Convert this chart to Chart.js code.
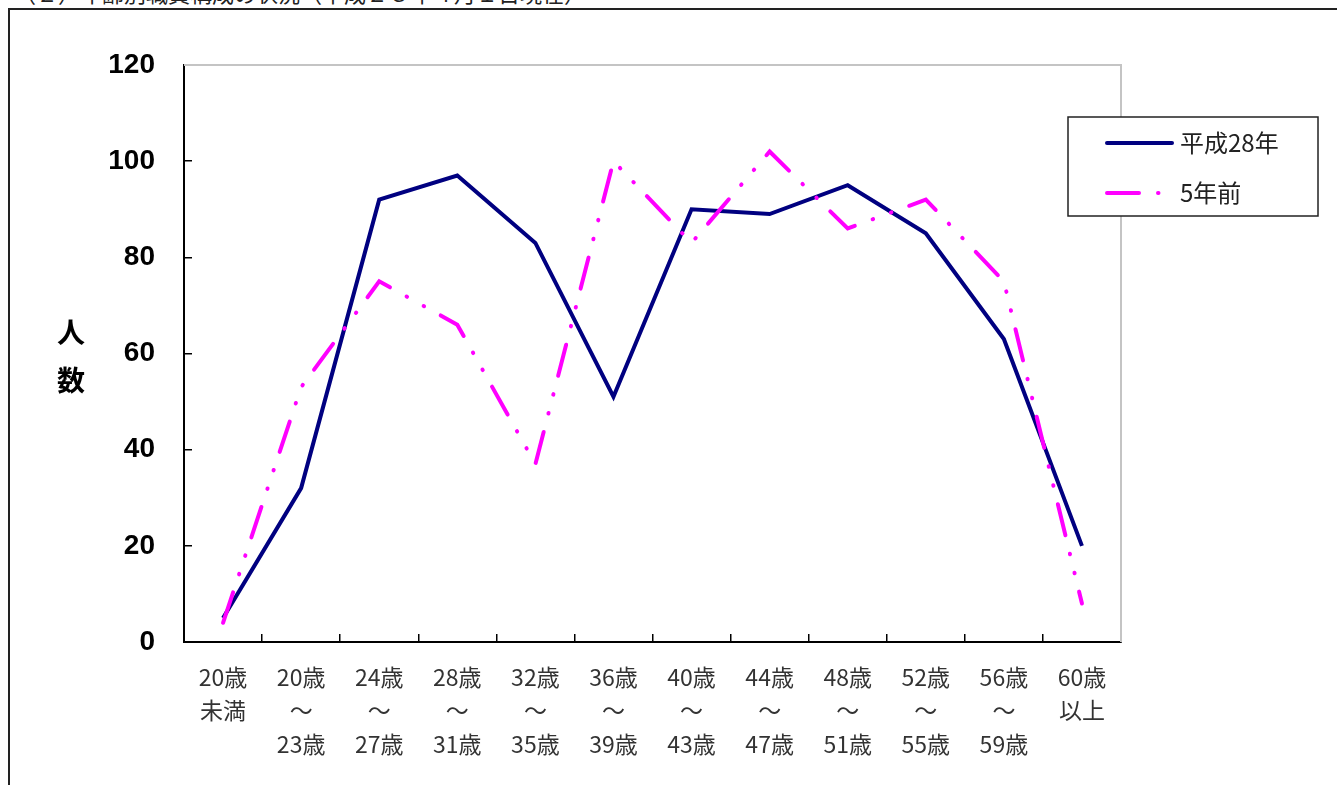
<!DOCTYPE html>
<html lang="ja">
<head>
<meta charset="utf-8">
<title>年齢別職員構成の状況</title>
<script src="https://cdn.jsdelivr.net/npm/chart.js@4.4.1/dist/chart.umd.min.js"></script>
<style>
  html, body { margin: 0; padding: 0; background: #fff; overflow: hidden; }
  #caption { position: absolute; left: 14px; top: -24px; font: 22px "Noto Sans CJK JP"; color: #222; white-space: nowrap; }
  #frame { position: absolute; left: 8px; top: 8px; width: 1340px; height: 790px; border-left: 2px solid #222; border-top: 2px solid #222; }
  #wrap { position: absolute; left: 0; top: 0; width: 1337px; height: 785px; }
</style>
</head>
<body>
<div id="caption">（２）年齢別職員構成の状況（平成２８年４月１日現在）</div>
<div id="frame"></div>
<div id="wrap"><canvas id="ageChart" width="1337" height="785"></canvas></div>
<script>
// 年齢区分
const labels = [
  ['20歳', '未満'],
  ['20歳', '～', '23歳'],
  ['24歳', '～', '27歳'],
  ['28歳', '～', '31歳'],
  ['32歳', '～', '35歳'],
  ['36歳', '～', '39歳'],
  ['40歳', '～', '43歳'],
  ['44歳', '～', '47歳'],
  ['48歳', '～', '51歳'],
  ['52歳', '～', '55歳'],
  ['56歳', '～', '59歳'],
  ['60歳', '以上']
];

// 人数
const current = [5, 32, 92, 97, 83, 51, 90, 89, 95, 85, 63, 20];
const fiveYearsAgo = [4, 53, 75, 66, 37, 100, 83, 102, 86, 92, 75, 8];

const yTicks = [0, 20, 40, 60, 80, 100, 120];
const yTitle = ['人', '数'];

// グラフ枠（上・右の灰色線）
const plotFrame = {
  id: 'plotFrame',
  beforeDatasetsDraw(chart) {
    const a = chart.chartArea;
    const ctx = chart.ctx;
    ctx.save();
    ctx.strokeStyle = '#c4c4c4';
    ctx.lineWidth = 2;
    ctx.beginPath();
    ctx.moveTo(a.left, a.top);
    ctx.lineTo(a.right, a.top);
    ctx.lineTo(a.right, a.bottom);
    ctx.stroke();
    ctx.restore();
  }
};

// 縦書きの軸タイトル
const verticalTitle = {
  id: 'verticalTitle',
  afterDraw(chart) {
    const ctx = chart.ctx;
    ctx.save();
    ctx.fillStyle = '#000';
    ctx.font = 'bold 28px "Noto Sans CJK JP"';
    ctx.textAlign = 'center';
    ctx.textBaseline = 'middle';
    yTitle.forEach((ch, i) => ctx.fillText(ch, 71, 332 + i * 48));
    ctx.restore();
  }
};

// 凡例（枠付き）
const legendBox = {
  id: 'legendBox',
  afterDraw(chart) {
    const a = chart.chartArea;
    const ctx = chart.ctx;
    const x = a.right - 53, y = 117, w = 250, h = 99;
    ctx.save();
    ctx.fillStyle = '#fff';
    ctx.fillRect(x, y, w, h);
    ctx.strokeStyle = '#222';
    ctx.lineWidth = 1.5;
    ctx.strokeRect(x, y, w, h);
    ctx.font = '24px "Noto Sans CJK JP"';
    ctx.textBaseline = 'middle';
    chart.data.datasets.forEach((ds, i) => {
      const ly = y + 26 + i * 50;
      ctx.beginPath();
      ctx.setLineDash(ds.borderDash || []);
      ctx.lineCap = 'round';
      ctx.strokeStyle = ds.borderColor;
      ctx.lineWidth = 4;
      ctx.moveTo(x + 39, ly);
      ctx.lineTo(x + 104, ly);
      ctx.stroke();
      ctx.setLineDash([]);
      ctx.fillStyle = '#222';
      ctx.fillText(ds.label, x + 112, ly);
    });
    ctx.restore();
  }
};

const ctx = document.getElementById('ageChart');

new Chart(ctx, {
  type: 'line',
  data: {
    labels: labels,
    datasets: [{
      label: '平成28年',
      data: current,
      borderColor: '#000080',
      borderWidth: 4,
      pointRadius: 0,
      tension: 0,
      order: 1
    }, {
      label: '5年前',
      data: fiveYearsAgo,
      borderColor: '#ff00ff',
      borderWidth: 4,
      borderDash: [32, 19, 0.5, 19, 0.5, 19],
      borderCapStyle: 'round',
      pointRadius: 0,
      tension: 0,
      order: 0
    }]
  },
  options: {
    responsive: false,
    animation: false,
    layout: {
      padding: { left: 0, top: 65, right: 216, bottom: 0 }
    },
    plugins: {
      legend: { display: false },
      tooltip: { enabled: false }
    },
    scales: {
      x: {
        offset: true,
        grid: {
          offset: true,
          drawOnChartArea: false,
          tickLength: -8,
          color: '#000',
          lineWidth: 1.5
        },
        border: { color: '#000', width: 2 },
        ticks: {
          autoSkip: false,
          maxRotation: 0,
          padding: 26,
          color: '#333',
          font: { family: '"Noto Sans CJK JP"', size: 23, lineHeight: 1.47 }
        },
        afterFit(scale) { scale.height = 143; }
      },
      y: {
        min: 0,
        max: 120,
        afterBuildTicks(scale) { scale.ticks = yTicks.map(v => ({ value: v })); },
        grid: {
          drawOnChartArea: false,
          tickLength: -8,
          color: '#000',
          lineWidth: 1.5
        },
        border: { color: '#000', width: 2 },
        ticks: {
          padding: 37,
          color: '#000',
          font: { family: '"Liberation Sans"', size: 28, weight: 'bold' }
        },
        afterFit(scale) { scale.width = 184; }
      }
    }
  },
  plugins: [plotFrame, verticalTitle, legendBox]
});
</script>
</body>
</html>
